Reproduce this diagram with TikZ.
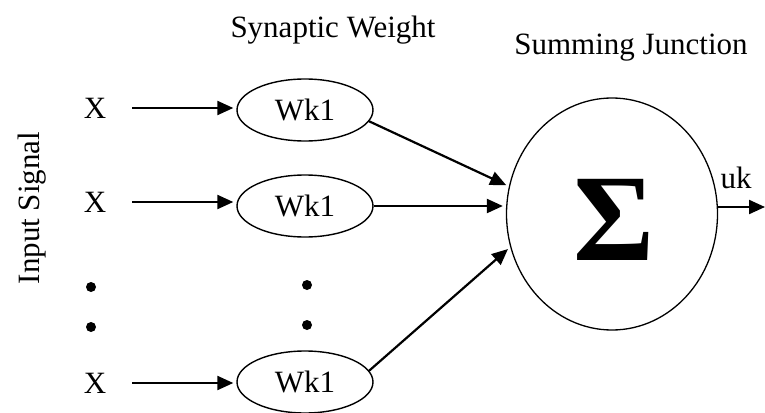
\documentclass[tikz,border=0pt]{standalone}
\usepackage{fontspec}
\setmainfont{Liberation Serif}
\usetikzlibrary{shapes.geometric,arrows.meta}
\begin{document}
\begin{tikzpicture}[x=1pt, y=-1pt,
  every node/.style = {font=\fontsize{31}{33}\selectfont, inner sep=0pt},
  weight/.style = {shape=ellipse, draw, line width=1.4pt,
    minimum width=136pt, minimum height=62pt},
  dot/.style = {shape=circle, fill, minimum size=10pt},
  sig/.style = {-{Triangle[length=16pt,width=14pt]}, line width=2.2pt,
    shorten >=3pt}]
  \useasboundingbox (0,0) rectangle (765,412);
  \node (syn) at (333,30) {Synaptic Weight};
  \node (sj) at (631,48) {Summing Junction};
  \node[rotate=90] (inp) at (32,208) {Input Signal};
  \node (x1) at (95,108) {X};
  \node (x2) at (95,202) {X};
  \node (x3) at (95,383) {X};
  \node[dot] (d1) at (91,287) {};
  \node[dot] (d2) at (91,327) {};
  \node[weight] (w1) at (305,110) {Wk1};
  \node[weight] (w2) at (305,206) {Wk1};
  \node[weight] (w3) at (305,382) {Wk1};
  \node[dot] (d3) at (307,285) {};
  \node[dot] (d4) at (307,325) {};
  \node[shape=ellipse, draw, line width=1.3pt,
    minimum width=211pt, minimum height=232pt] (sum) at (612,214) {};
  \node[font=\fontsize{124}{124}\selectfont\bfseries] (sigma) at (614,220) {Σ};
  \node (uk) at (736,178) {uk};
  \coordinate (out) at (765,207);
  \draw[sig, shorten <=26pt] (x1) -- (x1 -| w1.west);
  \draw[sig, shorten <=26pt] (x2) -- (x2 -| w2.west);
  \draw[sig, shorten <=26pt] (x3) -- (x3 -| w3.west);
  \draw[sig] (w1.-10) -- (sum.165);
  \draw[sig] (w2.east) -- (w2.east -| sum.west);
  \draw[sig] (w3.10) -- (sum.198);
  \draw[sig, shorten >=0pt] (out -| sum.east) -- (out);
\end{tikzpicture}
\end{document}
